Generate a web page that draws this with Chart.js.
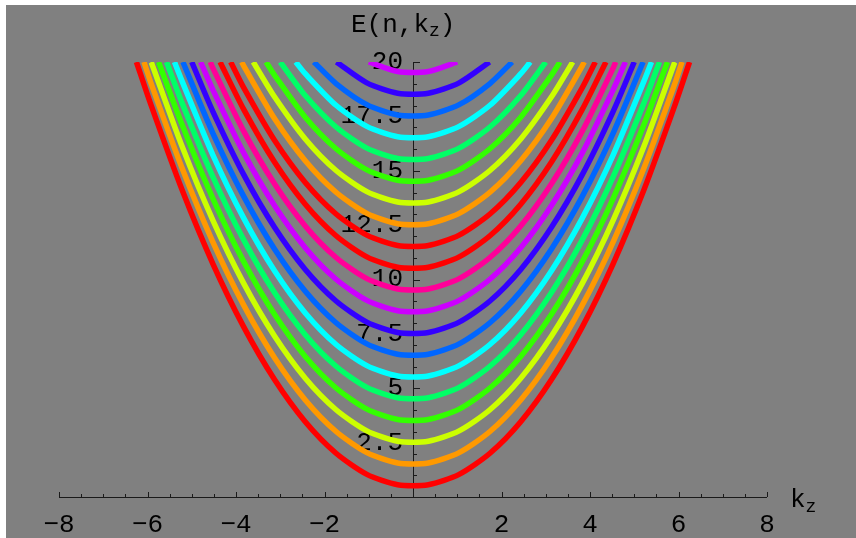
<!DOCTYPE html>
<html>
<head>
<meta charset="utf-8">
<script src="https://cdn.jsdelivr.net/npm/chart.js@4.4.1/dist/chart.umd.min.js"></script>
<style>
  body { margin: 0; background: #fff; }
  #wrap { width: 856px; height: 538px; }
</style>
</head>
<body>
<div id="wrap"><canvas id="levels" width="856" height="538"></canvas></div>
<script>
// kz sample points shared by every level curve
const kzGrid = [-5.913, -5.217, -4.522, -3.826, -3.130, -2.435, -1.739, -1.043, -0.348,
                0.348, 1.043, 1.739, 2.435, 3.130, 3.826, 4.522, 5.217, 5.913];

// E(n,kz) read at kzGrid for each level n (null = above the top of the plot)
const level0  = [17.98, 14.11, 10.72, 7.82, 5.40, 3.46, 2.01, 1.04, 0.56, 0.56, 1.04, 2.01, 3.46, 5.40, 7.82, 10.72, 14.11, 17.98];
const level1  = [18.98, 15.11, 11.72, 8.82, 6.40, 4.46, 3.01, 2.04, 1.56, 1.56, 2.04, 3.01, 4.46, 6.40, 8.82, 11.72, 15.11, 18.98];
const level2  = [19.98, 16.11, 12.72, 9.82, 7.40, 5.46, 4.01, 3.04, 2.56, 2.56, 3.04, 4.01, 5.46, 7.40, 9.82, 12.72, 16.11, 19.98];
const level3  = [null, 17.11, 13.72, 10.82, 8.40, 6.46, 5.01, 4.04, 3.56, 3.56, 4.04, 5.01, 6.46, 8.40, 10.82, 13.72, 17.11, null];
const level4  = [null, 18.11, 14.72, 11.82, 9.40, 7.46, 6.01, 5.04, 4.56, 4.56, 5.04, 6.01, 7.46, 9.40, 11.82, 14.72, 18.11, null];
const level5  = [null, 19.11, 15.72, 12.82, 10.40, 8.46, 7.01, 6.04, 5.56, 5.56, 6.04, 7.01, 8.46, 10.40, 12.82, 15.72, 19.11, null];
const level6  = [null, null, 16.72, 13.82, 11.40, 9.46, 8.01, 7.04, 6.56, 6.56, 7.04, 8.01, 9.46, 11.40, 13.82, 16.72, null, null];
const level7  = [null, null, 17.72, 14.82, 12.40, 10.46, 9.01, 8.04, 7.56, 7.56, 8.04, 9.01, 10.46, 12.40, 14.82, 17.72, null, null];
const level8  = [null, null, 18.72, 15.82, 13.40, 11.46, 10.01, 9.04, 8.56, 8.56, 9.04, 10.01, 11.46, 13.40, 15.82, 18.72, null, null];
const level9  = [null, null, 19.72, 16.82, 14.40, 12.46, 11.01, 10.04, 9.56, 9.56, 10.04, 11.01, 12.46, 14.40, 16.82, 19.72, null, null];
const level10 = [null, null, null, 17.82, 15.40, 13.46, 12.01, 11.04, 10.56, 10.56, 11.04, 12.01, 13.46, 15.40, 17.82, null, null, null];
const level11 = [null, null, null, 18.82, 16.40, 14.46, 13.01, 12.04, 11.56, 11.56, 12.04, 13.01, 14.46, 16.40, 18.82, null, null, null];
const level12 = [null, null, null, 19.82, 17.40, 15.46, 14.01, 13.04, 12.56, 12.56, 13.04, 14.01, 15.46, 17.40, 19.82, null, null, null];
const level13 = [null, null, null, null, 18.40, 16.46, 15.01, 14.04, 13.56, 13.56, 14.04, 15.01, 16.46, 18.40, null, null, null, null];
const level14 = [null, null, null, null, 19.40, 17.46, 16.01, 15.04, 14.56, 14.56, 15.04, 16.01, 17.46, 19.40, null, null, null, null];
const level15 = [null, null, null, null, null, 18.46, 17.01, 16.04, 15.56, 15.56, 16.04, 17.01, 18.46, null, null, null, null, null];
const level16 = [null, null, null, null, null, 19.46, 18.01, 17.04, 16.56, 16.56, 17.04, 18.01, 19.46, null, null, null, null, null];
const level17 = [null, null, null, null, null, null, 19.01, 18.04, 17.56, 17.56, 18.04, 19.01, null, null, null, null, null, null];
const level18 = [null, null, null, null, null, null, null, 19.04, 18.56, 18.56, 19.04, null, null, null, null, null, null, null];
const level19 = [null, null, null, null, null, null, null, null, 19.56, 19.56, null, null, null, null, null, null, null, null];

const levels = [level0, level1, level2, level3, level4, level5, level6, level7, level8, level9,
                level10, level11, level12, level13, level14, level15, level16, level17, level18, level19];

// |kz| where each curve leaves the top of the plot (E = 20)
const edgeKz = [6.25, 6.08, 5.92, 5.75, 5.57, 5.39, 5.20, 5.00, 4.80, 4.58,
                4.36, 4.12, 3.87, 3.61, 3.32, 3.00, 2.65, 2.24, 1.73, 1.00];
const plotTop = 20;

const lineColors = ['#ff0000', '#ff9900', '#ccff00', '#33ff00', '#00ff66', '#00ffff', '#0066ff', '#3300ff', '#cc00ff', '#ff0099',
                    '#ff0000', '#ff0000', '#ff9900', '#ccff00', '#33ff00', '#00ff66', '#00ffff', '#0066ff', '#3300ff', '#cc00ff'];

const xTickLabels = [-8, -6, -4, -2, 2, 4, 6, 8];
const yTickLabels = [2.5, 5, 7.5, 10, 12.5, 15, 17.5, 20];

const FONT = "'Liberation Mono', 'Courier New', monospace";

function buildPoints(values, edge) {
    const pts = [{ x: -edge, y: plotTop }];
    values.forEach((v, i) => {
        if (v !== null) pts.push({ x: kzGrid[i], y: v });
    });
    pts.push({ x: edge, y: plotTop });
    return pts;
}

const datasets = levels.map((vals, n) => ({
    data: buildPoints(vals, edgeKz[n]),
    borderColor: lineColors[n],
    borderWidth: 5.5,
    showLine: true,
    pointRadius: 0,
    tension: 0.25,
    clip: 0,
    borderCapStyle: 'butt',
    borderJoinStyle: 'round',
    order: levels.length - n
}));

// grey backdrop like the original notebook graphic
const backdrop = {
    id: 'backdrop',
    beforeDraw(chart) {
        const c = chart.ctx;
        c.save();
        c.fillStyle = '#ffffff';
        c.fillRect(0, 0, chart.width, chart.height);
        c.fillStyle = '#808080';
        c.fillRect(6, 5, chart.width - 6, chart.height - 5);
        c.restore();
    }
};

function minus(v) {
    return v < 0 ? '\u2212' + Math.abs(v) : String(v);
}

// axes through the origin, drawn under the curves
const originAxes = {
    id: 'originAxes',
    beforeDatasetsDraw(chart) {
        const c = chart.ctx;
        const xs = chart.scales.x, ys = chart.scales.y;
        const x0 = xs.getPixelForValue(0), y0 = ys.getPixelForValue(0);
        c.save();
        c.strokeStyle = '#1a1a1a';
        c.lineWidth = 1;
        c.beginPath();
        c.moveTo(xs.getPixelForValue(-8), y0 + 0.5);
        c.lineTo(xs.getPixelForValue(8), y0 + 0.5);
        c.moveTo(x0 + 0.5, ys.getPixelForValue(0));
        c.lineTo(x0 + 0.5, ys.getPixelForValue(20));
        // x ticks every 0.5, long ones at the labels
        for (let k = -16; k <= 16; k++) {
            const px = Math.round(xs.getPixelForValue(k / 2)) + 0.5;
            const len = (k % 4 === 0) ? 5 : 3;
            c.moveTo(px, y0);
            c.lineTo(px, y0 - len);
        }
        // y ticks every 0.5, long ones at the labels
        for (let k = 1; k <= 40; k++) {
            const py = Math.round(ys.getPixelForValue(k / 2)) + 0.5;
            const len = (k % 5 === 0) ? 7 : 4;
            c.moveTo(x0, py);
            c.lineTo(x0 + len, py);
        }
        c.stroke();

        c.fillStyle = '#000000';
        c.font = '26px ' + FONT;
        c.textAlign = 'center';
        c.textBaseline = 'top';
        xTickLabels.forEach(v => c.fillText(minus(v), xs.getPixelForValue(v), y0 + 15));
        c.textAlign = 'right';
        c.textBaseline = 'middle';
        yTickLabels.forEach(v => c.fillText(String(v), x0 - 10, ys.getPixelForValue(v)));

        // axis labels
        c.textAlign = 'left';
        c.textBaseline = 'alphabetic';
        c.font = '26px ' + FONT;
        let tx = 351;
        c.fillText('E(n,k', tx, 32);
        tx += c.measureText('E(n,k').width;
        c.font = '18px ' + FONT;
        c.fillText('z', tx, 36);
        tx += c.measureText('z').width;
        c.font = '26px ' + FONT;
        c.fillText(')', tx, 32);

        c.fillText('k', 790, 507);
        const kw = c.measureText('k').width;
        c.font = '18px ' + FONT;
        c.fillText('z', 790 + kw, 512);
        c.restore();
    }
};

const ctx = document.getElementById('levels').getContext('2d');
new Chart(ctx, {
    type: 'scatter',
    data: { datasets: datasets },
    options: {
        responsive: false,
        animation: false,
        devicePixelRatio: 1,
        layout: { padding: { left: 59, right: 89, top: 62, bottom: 41 } },
        plugins: { legend: { display: false }, tooltip: { enabled: false } },
        scales: {
            x: { type: 'linear', min: -8, max: 8, display: false },
            y: { type: 'linear', min: 0, max: 20, display: false }
        }
    },
    plugins: [backdrop, originAxes]
});
</script>
</body>
</html>
